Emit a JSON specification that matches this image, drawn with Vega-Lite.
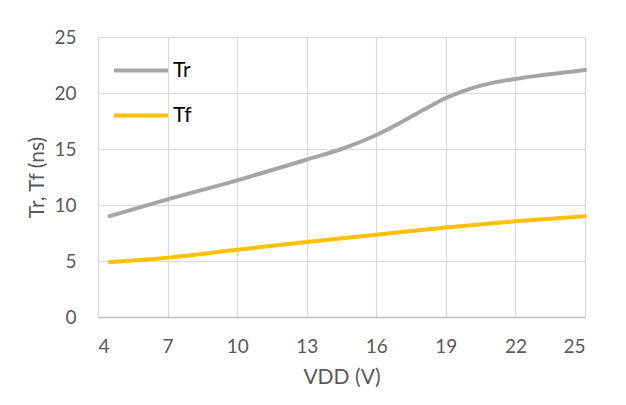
{
  "$schema": "https://vega.github.io/schema/vega-lite/v6.json",
  "width": 487,
  "height": 280,
  "autosize": {"type": "none"},
  "padding": {"left": 98, "top": 37, "right": 41, "bottom": 88},
  "background": "white",
  "config": {
    "font": "Lato",
    "view": {"stroke": null},
    "axis": {"gridColor": "#D9D9D9", "gridWidth": 1.2, "ticks": false, "labelColor": "#595959", "labelFontSize": 19, "titleColor": "#595959", "titleFontSize": 21, "titleFontWeight": "normal", "labelFont": "Lato", "titleFont": "Lato"}
  },
  "data": {"values": [
    {"series": "Tr", "vdd": 4.5, "t": 9.0},
    {"series": "Tr", "vdd": 7, "t": 10.5},
    {"series": "Tr", "vdd": 10, "t": 12.2},
    {"series": "Tr", "vdd": 13, "t": 14.05},
    {"series": "Tr", "vdd": 14.5, "t": 15.0},
    {"series": "Tr", "vdd": 16, "t": 16.25},
    {"series": "Tr", "vdd": 17, "t": 17.3},
    {"series": "Tr", "vdd": 18, "t": 18.45},
    {"series": "Tr", "vdd": 19, "t": 19.55},
    {"series": "Tr", "vdd": 20, "t": 20.35},
    {"series": "Tr", "vdd": 21, "t": 20.9},
    {"series": "Tr", "vdd": 22, "t": 21.25},
    {"series": "Tr", "vdd": 23, "t": 21.55},
    {"series": "Tr", "vdd": 24, "t": 21.8},
    {"series": "Tr", "vdd": 25, "t": 22.05},
    {"series": "Tf", "vdd": 4.5, "t": 4.92},
    {"series": "Tf", "vdd": 7, "t": 5.3},
    {"series": "Tf", "vdd": 10, "t": 6.0},
    {"series": "Tf", "vdd": 13, "t": 6.7},
    {"series": "Tf", "vdd": 16, "t": 7.35},
    {"series": "Tf", "vdd": 19, "t": 8.0},
    {"series": "Tf", "vdd": 22, "t": 8.55},
    {"series": "Tf", "vdd": 25, "t": 9.0}
  ]},
  "mark": {"type": "line", "strokeWidth": 4, "interpolate": "monotone", "strokeCap": "round"},
  "encoding": {
    "x": {"field": "vdd", "type": "quantitative", "title": "VDD (V)",
      "scale": {"domain": [4, 25], "nice": false, "zero": false},
      "axis": {"values": [4, 7, 10, 13, 16, 19, 22, 25], "domainColor": "#BFBFBF", "domainWidth": 1.5, "labelPadding": 20, "titlePadding": 10}},
    "y": {"field": "t", "type": "quantitative", "title": "Tr, Tf (ns)",
      "scale": {"domain": [0, 25], "nice": false},
      "axis": {"values": [0, 5, 10, 15, 20, 25], "domain": false, "labelPadding": 22, "titlePadding": 6}},
    "color": {"field": "series", "type": "nominal",
      "scale": {"domain": ["Tr", "Tf"], "range": ["#A5A5A5", "#FFC000"]},
      "legend": {"title": null, "orient": "none", "legendX": 14, "legendY": 12, "symbolType": "stroke", "symbolSize": 2916, "symbolStrokeWidth": 4, "clipHeight": 43, "rowPadding": 2, "labelFontSize": 21, "labelColor": "#000000", "labelOffset": 3, "padding": 0}},
    "order": {"field": "vdd", "type": "quantitative"}
  }
}
